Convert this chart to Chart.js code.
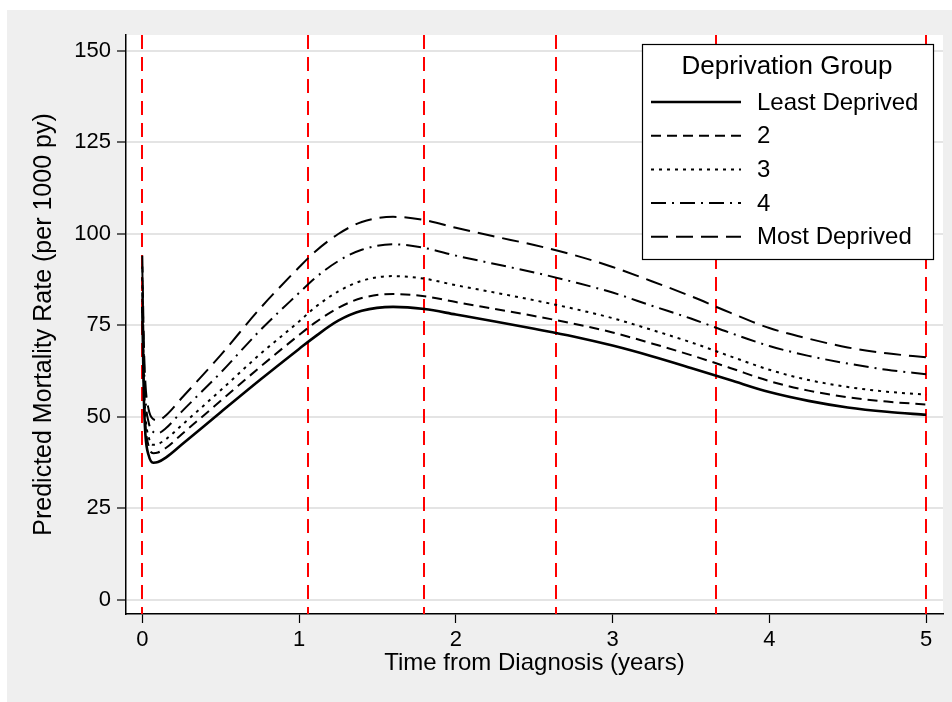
<!DOCTYPE html>
<html>
<head>
<meta charset="utf-8">
<script src="https://cdn.jsdelivr.net/npm/chart.js@4/dist/chart.umd.min.js"></script>
<style>
  html, body { margin: 0; padding: 0; background: #fff; }
  #wrap { width: 952px; height: 702px; }
</style>
</head>
<body>
<div id="wrap"><canvas id="chart" width="952" height="702"></canvas></div>
<script>
// time points (years since diagnosis)
const timeYears = [0, 0.01, 0.02, 0.04, 0.07, 0.1, 0.15, 0.25, 0.5, 0.75, 1.0, 1.1, 1.25, 1.4, 1.6, 1.8,
                   2.0, 2.25, 2.5, 2.75, 3.0, 3.25, 3.5, 3.75, 4.0, 4.25, 4.5, 4.75, 5.0];

// predicted mortality rate per 1000 py, one list per deprivation group
const leastDeprived = [80, 55, 45, 39.5, 37.4, 37.6, 38.8, 42.3, 51.2, 60.0, 68.5, 71.8, 76.2, 78.9, 80.0, 79.4,
                       77.9, 76.0, 74.0, 71.9, 69.4, 66.5, 63.3, 60.0, 56.7, 54.3, 52.5, 51.3, 50.5];
const group2 = [84, 58, 48, 42, 40.0, 40.2, 41.4, 45.1, 54.3, 63.5, 72.3, 75.6, 79.7, 82.4, 83.5, 82.9,
                81.3, 79.4, 77.5, 75.4, 73.0, 70.0, 66.8, 63.3, 59.7, 57.1, 55.3, 54.1, 53.3];
const group3 = [88, 61, 50.5, 44.5, 42.3, 42.5, 43.8, 47.6, 57.2, 67.0, 76.0, 79.8, 84.2, 87.1, 88.4, 87.7,
                85.9, 83.9, 81.8, 79.5, 76.9, 73.7, 70.3, 66.5, 62.8, 60.0, 58.1, 56.8, 56.0];
const group4 = [91, 66, 55, 48.5, 45.8, 45.5, 46.8, 51.3, 62.0, 73.5, 83.8, 87.8, 92.5, 95.6, 97.1, 96.1,
                94.0, 91.7, 89.4, 86.8, 83.9, 80.3, 76.8, 72.9, 69.3, 66.6, 64.5, 62.8, 61.6];
const mostDeprived = [94, 70, 59, 52, 49.3, 49.0, 50.3, 55.0, 66.8, 79.5, 90.8, 95.0, 99.9, 103.2, 104.6, 103.7,
                      101.6, 99.2, 96.9, 94.2, 90.9, 87.0, 82.9, 78.4, 74.2, 71.3, 68.9, 67.3, 66.2];

// interval cut points (red dashed lines)
const cutPoints = [0, 1.055, 1.8, 2.64, 3.66, 5];

const groupLabels = ['Least Deprived', '2', '3', '4', 'Most Deprived'];
const legendTitle = 'Deprivation Group';
const xTicks = [0, 1, 2, 3, 4, 5];
const yTicks = [0, 25, 50, 75, 100, 125, 150];

const FONT = '"Liberation Sans", Arial, sans-serif';

const seriesList = [leastDeprived, group2, group3, group4, mostDeprived];
const dashes = [[], [10, 6], [3, 5], [15, 6, 2, 6], [17, 8]];
const widths = [2.6, 2, 2, 2, 2];

function toPoints(vals) {
    return vals.map((v, i) => ({ x: timeYears[i], y: v }));
}

const datasets = seriesList.map((vals, i) => ({
    label: groupLabels[i],
    data: toPoints(vals),
    borderColor: '#000',
    borderWidth: widths[i],
    borderDash: dashes[i],
    pointRadius: 0,
    fill: false,
    cubicInterpolationMode: 'monotone'
}));

// gray frame, white plot region, red cut lines
const backgroundPlugin = {
    id: 'bg',
    beforeDraw(chart) {
        const c = chart.ctx, a = chart.chartArea;
        c.save();
        c.fillStyle = '#fff';
        c.fillRect(0, 0, chart.width, chart.height);
        c.fillStyle = '#efefef';
        c.fillRect(7, 10, chart.width - 7, chart.height - 10);
        c.fillStyle = '#fff';
        c.fillRect(a.left, a.top, a.right - a.left, a.bottom - a.top);
        c.restore();
    },
    beforeDatasetsDraw(chart) {
        const c = chart.ctx, a = chart.chartArea, xs = chart.scales.x;
        c.save();
        c.strokeStyle = '#ff0000';
        c.lineWidth = 2;
        c.setLineDash([14, 8]);
        cutPoints.forEach(v => {
            const px = Math.round(xs.getPixelForValue(v));
            c.beginPath();
            c.moveTo(px, a.top);
            c.lineTo(px, a.bottom);
            c.stroke();
        });
        c.restore();
    }
};

// boxed legend inside the plot, top right
const boxLegendPlugin = {
    id: 'boxLegend',
    afterDatasetsDraw(chart) {
        const c = chart.ctx;
        const bx = 642, by = 44, bw = 291, bh = 215;
        c.save();
        c.fillStyle = '#fff';
        c.fillRect(bx, by, bw, bh);
        c.strokeStyle = '#000';
        c.lineWidth = 1.2;
        c.strokeRect(bx + 0.5, by + 0.5, bw, bh);
        c.fillStyle = '#000';
        c.textBaseline = 'middle';
        c.font = '26px ' + FONT;
        c.textAlign = 'center';
        c.fillText(legendTitle, 787, 67);
        c.textAlign = 'left';
        c.font = '24px ' + FONT;
        chart.data.datasets.forEach((ds, i) => {
            const y = 102 + i * 33.7;
            c.lineWidth = ds.borderWidth;
            c.setLineDash(ds.borderDash);
            c.beginPath();
            c.moveTo(651, y);
            c.lineTo(741, y);
            c.stroke();
            c.setLineDash([]);
            c.fillText(ds.label, 757, y + 1);
        });
        c.restore();
    }
};

const ctx = document.getElementById('chart').getContext('2d');
new Chart(ctx, {
    type: 'line',
    data: { datasets: datasets },
    options: {
        responsive: false,
        animation: false,
        layout: { padding: { left: 0, top: 35, right: 9, bottom: 0 } },
        plugins: { legend: { display: false }, tooltip: { enabled: false } },
        scales: {
            x: {
                type: 'linear',
                min: -0.104,
                max: 5.108,
                afterBuildTicks(s) { s.ticks = xTicks.map(v => ({ value: v })); },
                afterFit(s) { s.height = 88; },
                border: { color: '#000', width: 1.5 },
                grid: { drawOnChartArea: false, tickColor: '#000', tickLength: 9, tickWidth: 1.2 },
                ticks: { color: '#000', font: { family: FONT, size: 22 }, padding: 4 },
                title: {
                    display: true,
                    text: 'Time from Diagnosis (years)',
                    color: '#000',
                    font: { family: FONT, size: 24 },
                    padding: { top: 0, bottom: 24 }
                }
            },
            y: {
                min: -3.96,
                max: 154.3,
                afterBuildTicks(s) { s.ticks = yTicks.map(v => ({ value: v })); },
                afterFit(s) { s.width = 126; },
                border: { color: '#000', width: 1.5 },
                grid: { color: '#e4e4e4', lineWidth: 2, tickColor: '#000', tickLength: 9, tickWidth: 1.2 },
                ticks: { color: '#000', font: { family: FONT, size: 22 }, padding: 6 },
                title: {
                    display: true,
                    text: 'Predicted Mortality Rate (per 1000 py)',
                    color: '#000',
                    font: { family: FONT, size: 25 },
                    padding: { top: 29, bottom: 0 }
                }
            }
        }
    },
    plugins: [backgroundPlugin, boxLegendPlugin]
});
</script>
</body>
</html>
